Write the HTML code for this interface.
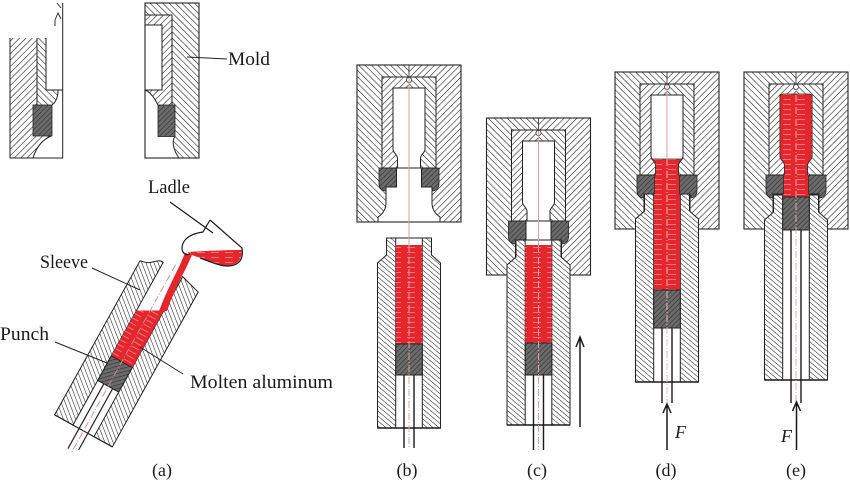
<!DOCTYPE html>
<html><head><meta charset="utf-8"><style>
html,body{margin:0;padding:0;background:#fff;}
svg{display:block;}
text{font-family:"Liberation Serif",serif;fill:#1a1a1a;}
</style></head><body>
<svg width="850" height="487" viewBox="0 0 850 487" xmlns="http://www.w3.org/2000/svg">
<defs>
<pattern id="hA" patternUnits="userSpaceOnUse" width="4.5" height="4.5" patternTransform="rotate(45)">
<rect width="4.5" height="4.5" fill="#fff"/><line x1="0" y1="0" x2="0" y2="4.5" stroke="#111" stroke-width="1.1"/></pattern>
<pattern id="hB" patternUnits="userSpaceOnUse" width="4.5" height="4.5" patternTransform="rotate(-45)">
<rect width="4.5" height="4.5" fill="#fff"/><line x1="0" y1="0" x2="0" y2="4.5" stroke="#111" stroke-width="1.1"/></pattern>
<pattern id="hC" patternUnits="userSpaceOnUse" width="3.8" height="3.8" patternTransform="rotate(-50)">
<rect width="3.8" height="3.8" fill="#fff"/><line x1="0" y1="0" x2="0" y2="3.8" stroke="#111" stroke-width="1"/></pattern>
<pattern id="hD" patternUnits="userSpaceOnUse" width="3.6" height="3.6" patternTransform="rotate(45)">
<rect width="3.6" height="3.6" fill="#6b6b6b"/><line x1="0" y1="0" x2="0" y2="3.6" stroke="#2e2e2e" stroke-width="1.2"/></pattern>
<pattern id="hR" patternUnits="userSpaceOnUse" width="14" height="5">
<rect width="14" height="5" fill="#e6262d"/><line x1="1" y1="2.5" x2="9" y2="2.5" stroke="#f08c90" stroke-width="0.8"/></pattern>
<g id="mold">
<rect x="-52" y="0" width="52" height="157" fill="url(#hB)"/>
<rect x="0" y="0" width="52" height="157" fill="url(#hA)"/>
<rect x="-27" y="12" width="27" height="91" fill="url(#hA)"/>
<rect x="0" y="12" width="27" height="91" fill="url(#hB)"/>
<path d="M-30,103 H-12.5 V122 H-23 V126 C-27,126 -30,123 -30,119 Z" fill="url(#hD)" stroke="#222" stroke-width="0.8"/>
<path d="M30,103 H12.5 V122 H23 V126 C27,126 30,123 30,119 Z" fill="url(#hD)" stroke="#222" stroke-width="0.8"/>
<path d="M-16,23 H16 V84 C16,88 12,89 11.5,93 V103 H12.5 V122 H23 V138 C23,146 28,150 31,152 V157 H-31 V152 C-28,150 -23,146 -23,138 V122 H-12.5 V103 H-11.5 V93 C-12,89 -16,88 -16,84 Z" fill="#fff" stroke="#222" stroke-width="1"/>
<rect x="-27" y="12" width="54" height="91" fill="none" stroke="#222" stroke-width="1"/>
<rect x="-52" y="0" width="104" height="157" fill="none" stroke="#222" stroke-width="1.1"/>
<line x1="0" y1="0" x2="0" y2="12" stroke="#222" stroke-width="0.8"/>
<circle cx="0" cy="15" r="2.6" fill="#fff" stroke="#333" stroke-width="0.8"/>
</g>
</defs>
<rect width="850" height="487" fill="#fff"/>

<!-- (a) top-left pieces -->
<path d="M10,38 H37 V105 H33 V136 H51 C44,139 37,145 33,158 H10 Z" fill="url(#hA)"/>
<path d="M37,38 H46 V90 H58 C58,97 56,102 52,105 H37 Z" fill="url(#hB)"/>
<rect x="33" y="105" width="19" height="31" fill="url(#hD)" stroke="#222" stroke-width="0.8"/>
<path d="M10,38 V158 H62.7 V3 M37,38 V105 M46,38 V90 H62.7 M58,90 C58,97 56,102 52,105 M51,136 C44,139 37,145 33,158" fill="none" stroke="#222" stroke-width="1"/>
<path d="M57,3 L61,8 M55,20 L58,13 L61,19 M55,20 V26" fill="none" stroke="#222" stroke-width="0.9"/>

<rect x="145" y="3" width="54" height="155" fill="url(#hB)"/>
<path d="M145,15 H172 V105 H158 C155,99 151,92 145,90 Z" fill="url(#hA)"/>
<rect x="145" y="25" width="17" height="65" fill="#fff"/>
<path d="M145,90 C151,92 155,99 158,105 V136.5 H175 C171,142 174,151 179,158 H145 Z" fill="#fff"/>
<rect x="158" y="105" width="17" height="31.5" fill="url(#hD)" stroke="#222" stroke-width="0.8"/>
<rect x="145" y="3" width="54" height="155" fill="none" stroke="#222" stroke-width="1.1"/>
<path d="M145,15 H172 V105 M145,25 H162 V90 H145 M145,90 C151,92 155,99 158,105 M175,136.5 C171,142 174,151 179,158" fill="none" stroke="#222" stroke-width="1"/>
<line x1="187" y1="57" x2="227" y2="59" stroke="#222" stroke-width="1"/>
<text x="228" y="65" font-size="19" textLength="42" lengthAdjust="spacingAndGlyphs">Mold</text>
<text x="148" y="193" font-size="19" textLength="42" lengthAdjust="spacingAndGlyphs">Ladle</text>

<!-- (a) sleeve -->
<g transform="translate(115,374) rotate(29)">
<path d="M-33,65 H-12 V-121 C-17,-122 -20,-117 -24,-114 C-27,-112 -30,-112 -33,-111 Z" fill="url(#hC)" stroke="#222" stroke-width="1"/>
<path d="M12,65 H33 V-112 L12,-118 Z" fill="url(#hC)" stroke="#222" stroke-width="1"/>
<path d="M-12,-14 H12 V-79.3 L-12,-66 Z" fill="url(#hR)"/>
<rect x="-12" y="-14" width="24" height="28" fill="url(#hD)" stroke="#222" stroke-width="1"/>
<path d="M-5,14 V88 M5,14 V84 M-33,65 H33" fill="none" stroke="#222" stroke-width="1.2"/>
<line x1="0" y1="-125" x2="0" y2="90" stroke="#c98f8f" stroke-width="0.9" stroke-dasharray="7 2 1 2"/>
</g>

<!-- (a) ladle -->
<path d="M188,252 C205,251 225,250 242,250 C242,256 240,260 238,262 C233,266 226,266 220,265 C212,263 206,260 200,258 C195,256 191,255 188,253 Z" fill="url(#hR)"/>
<path d="M185,253 L192,255 L186,268 L179,282 L171,300 L167,311 L159,311 L165,296 L173,279 L180,265 Z" fill="#e6262d"/>
<path d="M170,202 L213,233 M210,220 L242,248 C243,254 242,258 240,261 C236,266 228,267 220,265 C212,263 206,260 200,258 M210,220 L203,232 C196,233 190,235 186,239 C182,243 181,249 183,252 C185,255 188,255 190,254" fill="none" stroke="#1a1a1a" stroke-width="1.2"/>

<line x1="92" y1="268" x2="140" y2="290" stroke="#222" stroke-width="1"/>
<line x1="55" y1="342" x2="107" y2="363" stroke="#222" stroke-width="1"/>
<line x1="140" y1="347" x2="183" y2="374" stroke="#222" stroke-width="1"/>
<text x="40" y="268" font-size="19" textLength="48" lengthAdjust="spacingAndGlyphs">Sleeve</text>
<text x="0" y="340" font-size="19" textLength="49" lengthAdjust="spacingAndGlyphs">Punch</text>
<text x="190" y="388" font-size="19" textLength="143" lengthAdjust="spacingAndGlyphs">Molten aluminum</text>

<!-- (b) -->
<use href="#mold" transform="translate(409,65)"/>
<path d="M386.5,238 H431.5 V255 L440.5,263 V428 H377.5 V263 L386.5,255 Z" fill="url(#hC)" stroke="#222" stroke-width="1"/>
<rect x="395.7" y="238" width="26.6" height="190" fill="#fff" stroke="#222" stroke-width="1"/>
<rect x="395.7" y="245" width="26.6" height="99" fill="url(#hR)"/>
<rect x="395.7" y="344" width="26.6" height="31" fill="url(#hD)" stroke="#222" stroke-width="1"/>
<path d="M404,375 V448 M414,375 V448 M377.5,428 H440.5" stroke="#1a1a1a" stroke-width="1.4" fill="none"/>
<line x1="409" y1="78" x2="409" y2="245" stroke="#d8a0a0" stroke-width="1"/>
<line x1="409" y1="245" x2="409" y2="448" stroke="#d9a3a3" stroke-width="1" stroke-dasharray="7 2 1 2"/>
<text x="407" y="476" font-size="18" text-anchor="middle">(b)</text>

<!-- (c) -->
<use href="#mold" transform="translate(538.5,118)"/>
<path d="M516,240 H561 V257 L570,265 V425 H507 V265 L516,257 Z" fill="url(#hC)" stroke="#222" stroke-width="1"/>
<rect x="525.2" y="240" width="26.6" height="185" fill="#fff" stroke="#222" stroke-width="1"/>
<rect x="525.2" y="245" width="26.6" height="98" fill="url(#hR)"/>
<rect x="525.2" y="343" width="26.6" height="32" fill="url(#hD)" stroke="#222" stroke-width="1"/>
<path d="M533.5,375 V450 M543.5,375 V450 M507,425 H570" stroke="#1a1a1a" stroke-width="1.4" fill="none"/>
<line x1="538.5" y1="131" x2="538.5" y2="245" stroke="#d8a0a0" stroke-width="1"/>
<line x1="538.5" y1="245" x2="538.5" y2="450" stroke="#d9a3a3" stroke-width="1" stroke-dasharray="7 2 1 2"/>
<path d="M580,427 V337 M576,347 L580,337 L584,347" stroke="#1a1a1a" stroke-width="1.5" fill="none"/>
<text x="537" y="476" font-size="18" text-anchor="middle">(c)</text>

<!-- (d) -->
<use href="#mold" transform="translate(667,72)"/>
<path d="M644.5,194 H689.5 V211 L698.5,219 V382 H635.5 V219 L644.5,211 Z" fill="url(#hC)" stroke="#222" stroke-width="1"/>
<rect x="653.7" y="194" width="26.6" height="188" fill="#fff" stroke="#222" stroke-width="1"/>
<g transform="translate(667,72)">
<path d="M-15.5,87 H15.5 C13,89 11.5,90 11.5,93 V103 H12.5 V122 H13.3 V218 H-13.3 V122 H-12.5 V103 H-11.5 V93 C-11.5,90 -13,89 -15.5,87 Z" fill="url(#hR)" stroke="#333" stroke-width="0.7"/>
</g>
<rect x="653.7" y="290" width="26.6" height="38" fill="url(#hD)" stroke="#222" stroke-width="1"/>
<path d="M662,328 V403 M672,328 V403 M635.5,382 H698.5" stroke="#1a1a1a" stroke-width="1.4" fill="none"/>
<line x1="667" y1="85" x2="667" y2="159" stroke="#d8a0a0" stroke-width="1"/>
<line x1="667" y1="159" x2="667" y2="403" stroke="#e8b8b8" stroke-width="1" stroke-dasharray="7 2 1 2"/>
<path d="M667,450 V404 M663,413 L667,404 L671,413" stroke="#1a1a1a" stroke-width="1.5" fill="none"/>
<text x="675" y="438" font-size="18" font-style="italic">F</text>
<text x="666" y="476" font-size="18" text-anchor="middle">(d)</text>

<!-- (e) -->
<use href="#mold" transform="translate(796,72)"/>
<path d="M773.5,195 H818.5 V212 L827.5,220 V380 H764.5 V220 L773.5,212 Z" fill="url(#hC)" stroke="#222" stroke-width="1"/>
<rect x="782.7" y="195" width="26.6" height="185" fill="#fff" stroke="#222" stroke-width="1"/>
<g transform="translate(796,72)">
<path d="M-16,25 C-16,23 -15,22 -13,22 H13 C15,22 16,23 16,25 V84 C16,88 12,89 11.5,93 V103 H12.5 V122 H13.3 V125 H-13.3 V122 H-12.5 V103 H-11.5 V93 C-12,89 -16,88 -16,84 Z" fill="url(#hR)" stroke="#333" stroke-width="0.7"/>
</g>
<rect x="782.7" y="197" width="26.6" height="33" fill="url(#hD)" stroke="#222" stroke-width="1"/>
<path d="M791,230 V403 M801,230 V403 M764.5,380 H827.5" stroke="#1a1a1a" stroke-width="1.4" fill="none"/>
<line x1="796" y1="95" x2="796" y2="403" stroke="#e0b0b0" stroke-width="1" stroke-dasharray="7 2 1 2"/>
<path d="M796.5,450 V402 M792.5,411 L796.5,402 L800.5,411" stroke="#1a1a1a" stroke-width="1.5" fill="none"/>
<text x="781" y="442" font-size="18" font-style="italic">F</text>
<text x="796" y="476" font-size="18" text-anchor="middle">(e)</text>

<text x="162" y="476" font-size="18" text-anchor="middle">(a)</text>
</svg>
</body></html>
